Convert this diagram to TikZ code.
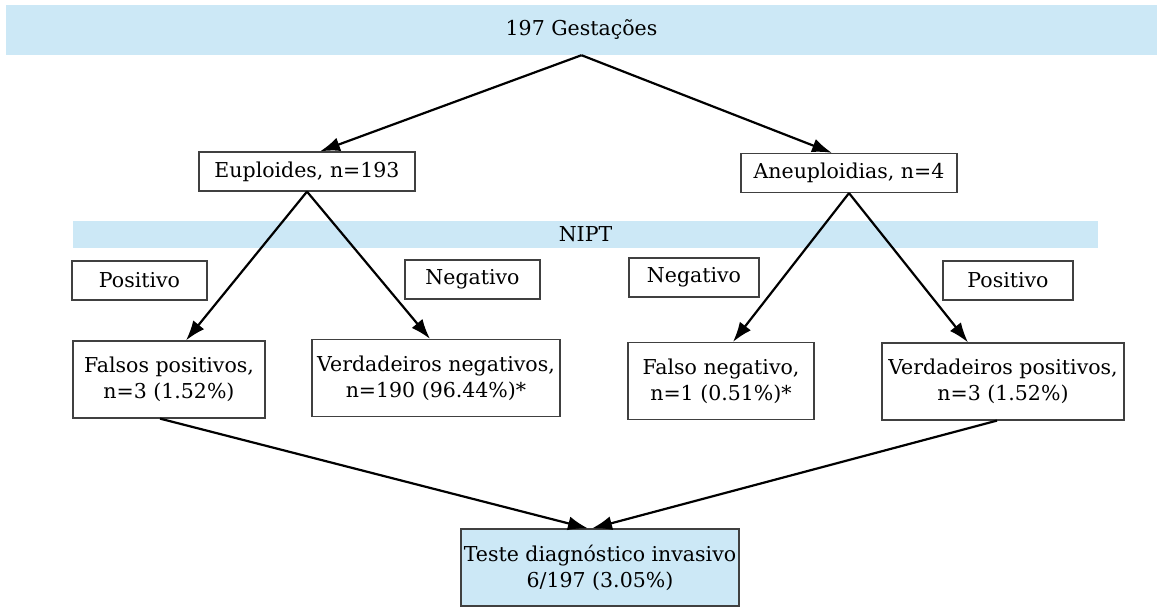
\documentclass[tikz,border=0pt]{standalone}
\usepackage{fontspec}
\setmainfont{DejaVu Serif}
\usetikzlibrary{
  arrows.meta
}
\definecolor{bandblue}{RGB}{204,232,246}
\definecolor{boxline}{RGB}{64,64,64}

\begin{document}
\begin{tikzpicture}[
  x=1pt, y=-1pt,
  every node/.style={
    font=\fontsize{20.5}{26}\selectfont,
    inner sep=0pt,
    align=center,
    },
  band/.style={fill=bandblue, minimum height=#1},
  label box/.style={draw=boxline, line width=1.2pt, minimum width=#1, minimum height=39pt},
  result box/.style={draw=boxline, line width=1.2pt, minimum width=#1, minimum height=77pt},
  flow/.style={line width=2.2pt, -{Latex[length=20pt,width=14pt]}},
  ]
\useasboundingbox (0,0) rectangle (1161,608);
% bands
\node[band=50pt, minimum width=1151pt] (total) at (581.5,30) {197 Gestações};
\node[band=27pt, minimum width=1025pt] (nipt) at (585.5,234.5) {NIPT};
% karyotype
\node[label box=216pt] (eup) at (307,171.5) {Euploides, n=193};
\node[label box=216pt] (aneu) at (849,173) {Aneuploidias, n=4};
% test result labels
\node[label box=135pt] (posL) at (139.5,280.5) {Positivo};
\node[label box=135pt] (negL) at (472.5,279.5) {Negativo};
\node[label box=130pt] (negR) at (694,277.5) {Negativo};
\node[label box=130pt] (posR) at (1008,280.5) {Positivo};
% outcomes
\node[result box=192pt] (fp) at (169,379.5) {Falsos positivos,\\n=3 (1.52\%)};
\node[result box=248pt] (vn) at (436,378) {Verdadeiros negativos,\\n=190 (96.44\%)*};
\node[result box=186pt] (fn) at (721,381) {Falso negativo,\\n=1 (0.51\%)*};
\node[result box=242pt] (vp) at (1003,381.5) {Verdadeiros positivos,\\n=3 (1.52\%)};
\node[result box=278pt, fill=bandblue] (teste) at (600,567.5) {Teste diagnóstico invasivo\\6/197 (3.05\%)};
% connectors
\draw[flow] (total.south) -- ([xshift=13pt]eup.north);
\draw[flow] (total.south) -- ([xshift=-17pt]aneu.north);
\draw[flow] (eup.south) -- ([xshift=17pt]fp.north);
\draw[flow] (eup.south) -- ([xshift=-6pt]vn.north);
\draw[flow] (aneu.south) -- ([xshift=12pt]fn.north);
\draw[flow] (aneu.south) -- ([xshift=-35pt]vp.north);
\draw[flow] ([xshift=-9pt]fp.south) -- ([xshift=-12pt]teste.north);
\draw[flow] ([xshift=-6pt]vp.south) -- ([xshift=-8pt]teste.north);
\end{tikzpicture}
\end{document}
